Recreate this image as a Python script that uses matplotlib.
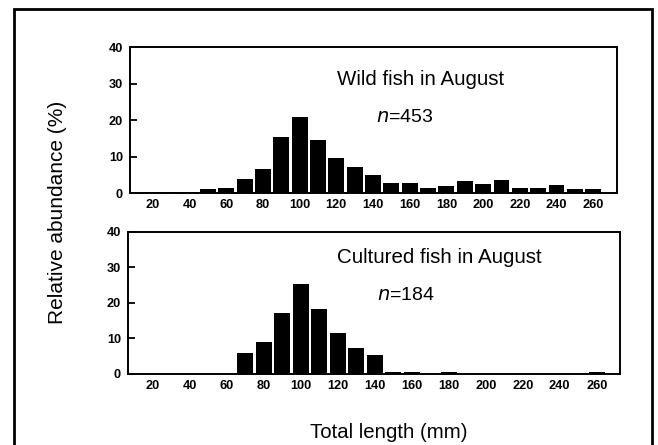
import matplotlib
matplotlib.use("Agg")
import matplotlib.pyplot as plt
from matplotlib.patches import Rectangle

# Data
lengths = [20, 30, 40, 50, 60, 70, 80, 90, 100, 110, 120, 130, 140, 150, 160,
           170, 180, 190, 200, 210, 220, 230, 240, 250, 260]
wild = [0.2, 0.2, 0.3, 1.0, 1.5, 4.0, 6.6, 15.5, 20.9, 14.5, 9.6, 7.2, 5.0, 2.9, 2.7,
        1.4, 1.9, 3.3, 2.6, 3.6, 1.5, 1.5, 2.1, 1.0, 1.0]
cultured = [0, 0, 0, 0, 0, 6.0, 9.1, 17.2, 25.4, 18.3, 11.5, 7.3, 5.4, 0.6, 0.6,
            0, 0.6, 0, 0, 0, 0, 0, 0, 0, 0.6]
xticks = [20, 40, 60, 80, 100, 120, 140, 160, 180, 200, 220, 240, 260]
yticks = [0, 10, 20, 30, 40]
titles = ["Wild fish in August", "Cultured fish in August"]
ns = ["453", "184"]

plt.rcParams['font.family'] = ['Liberation Sans', 'DejaVu Sans']

fig = plt.figure(figsize=(6.58, 4.45), dpi=100)

ax1 = fig.add_axes([0.1976, 0.566, 0.740, 0.328])
ax2 = fig.add_axes([0.1945, 0.160, 0.7475, 0.319])

specs = [(ax1, wild, (7.5, 273), 0.78, 0.52), (ax2, cultured, (6.5, 272.5), 0.817, 0.55)]
for i, (ax, vals, xl, ty, ny) in enumerate(specs):
    ax.bar(lengths, vals, width=8.6, color='black', edgecolor='none')
    ax.set_xlim(*xl)
    ax.set_ylim(0, 40)
    ax.set_xticks(xticks)
    ax.set_xticklabels([str(t) for t in xticks], fontsize=9.2, fontweight='bold')
    ax.set_yticks(yticks)
    ax.set_yticklabels([str(t) for t in yticks], fontsize=9.2, fontweight='bold')
    ax.tick_params(axis='x', length=0, pad=4.5)
    ax.tick_params(axis='y', direction='in', length=5, width=1.3, pad=5)
    for s in ax.spines.values():
        s.set_linewidth(1.4)
    ax.text(0.425, ty, titles[i], transform=ax.transAxes, fontsize=14.8,
            ha='left', va='center')
    ax.text(0.506, ny, r"$\it{n}$=" + ns[i], transform=ax.transAxes, fontsize=14,
            ha='left', va='center')

fig.text(0.087, 0.522, "Relative abundance (%)", rotation=90, fontsize=15,
         ha='center', va='center')
fig.text(0.591, 0.027, "Total length (mm)", fontsize=14.7, ha='center', va='center')

frame = Rectangle((0.021, -0.02), 0.970, 1.0, transform=fig.transFigure,
                  fill=False, edgecolor='black', linewidth=2)
fig.patches.append(frame)

fig.savefig("out.png", dpi=100)
